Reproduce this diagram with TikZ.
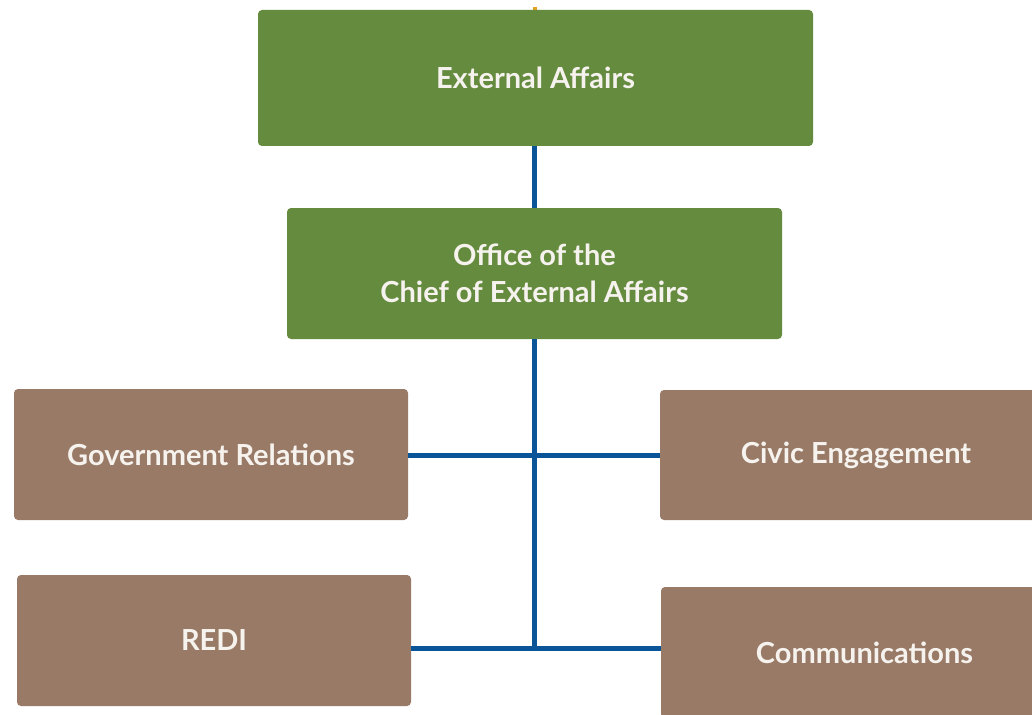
\documentclass[tikz,border=0pt]{standalone}
\usepackage{fontspec}
\setmainfont{Lato}
\usepackage{xcolor}
\usepackage{tikz}
\definecolor{leafgreen}{HTML}{658B3E}
\definecolor{claybrown}{HTML}{987A66}
\definecolor{linkblue}{HTML}{0A5597}
\definecolor{boxtext}{HTML}{F6F2EE}
\definecolor{tickorange}{HTML}{E3A11F}

\begin{document}
\begin{tikzpicture}[x=1pt,y=-1pt]
\clip (0,0) rectangle (1032,714);
\fill[white] (0,0) rectangle (1032,714);
\fill[tickorange] (533,7) rectangle (537,10);

\begin{scope}[every node/.style={rectangle,rounded corners=4pt,text=boxtext,
              font=\fontsize{29}{37}\selectfont\bfseries,align=center,inner sep=0pt}]
  \node[fill=leafgreen,minimum width=555pt,minimum height=136pt] (EA) at (535.5,78) {External Affairs};
  \node[fill=leafgreen,minimum width=495pt,minimum height=131pt] (OC) at (534.5,273.5) {Office of the\\Chief of External Affairs};
  \node[fill=claybrown,minimum width=394pt,minimum height=131pt] (GR) at (211,454.5) {Government Relations};
  \node[fill=claybrown,minimum width=392pt,minimum height=130pt] (CE) at (856,455) {Civic Engagement};
  \node[fill=claybrown,minimum width=394pt,minimum height=131pt] (RD) at (214,640.5) {REDI};
  \node[fill=claybrown,minimum width=407pt,minimum height=131pt] (CM) at (864.5,652.5) {Communications};
\end{scope}

\coordinate (J1) at (534.5,455);
\coordinate (J2) at (534.5,648);

\begin{scope}[every path/.style={draw=linkblue,line width=5pt}]
    \path (EA.south -| OC.north) -- (OC.north);
    \path (OC.south) -- (J2);
    \path (J1 -| GR.east) -- (J1 -| CE.west);
    \path (J2 -| RD.east) -- (J2 -| CM.west);
\end{scope}

\end{tikzpicture}
\end{document}
